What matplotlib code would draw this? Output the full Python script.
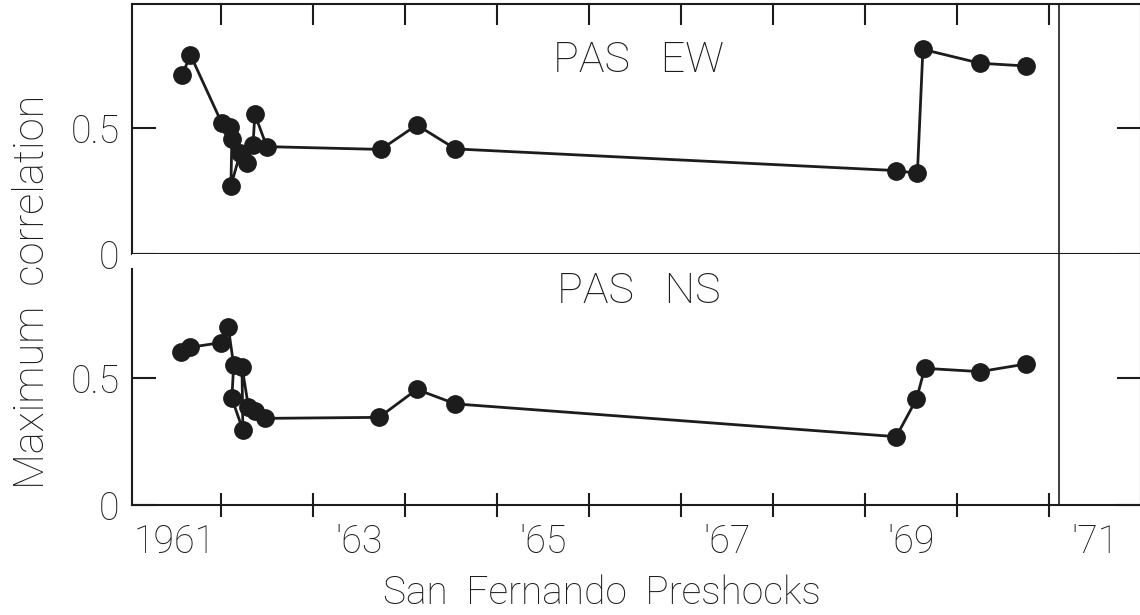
import matplotlib
matplotlib.use("Agg")
import matplotlib.pyplot as plt

# Preshock correlation values, PAS EW and PAS NS components
ew_year = [1961.58, 1961.67, 1962.01, 1962.10, 1962.12, 1962.11, 1962.21, 1962.28,
           1962.35, 1962.37, 1962.50, 1963.74, 1964.13, 1964.55, 1969.34, 1969.57,
           1969.63, 1970.25, 1970.75]
ew_corr = [0.71, 0.79, 0.52, 0.505, 0.455, 0.27, 0.40, 0.36,
           0.433, 0.554, 0.426, 0.415, 0.512, 0.417, 0.331, 0.32,
           0.812, 0.757, 0.746]

ns_year = [1961.57, 1961.67, 1962.00, 1962.08, 1962.14, 1962.12, 1962.24, 1962.23,
           1962.30, 1962.37, 1962.48, 1963.72, 1964.13, 1964.55, 1969.34, 1969.56,
           1969.65, 1970.25, 1970.75]
ns_corr = [0.604, 0.621, 0.639, 0.702, 0.551, 0.42, 0.295, 0.545,
           0.387, 0.37, 0.341, 0.345, 0.455, 0.398, 0.269, 0.417,
           0.538, 0.525, 0.555]

mainshock_year = 1971.11
year_ticks = list(range(1962, 1972))
label_pos = [1961.5, 1963.5, 1965.5, 1967.5, 1969.5, 1971.5]
label_text = ["1961", "'63", "'65", "'67", "'69", "'71"]
panel_titles = ["PAS   EW", "PAS   NS"]

ink = "#1c1c1c"
fam = ["Roboto", "DejaVu Sans"]
plt.rcParams["font.family"] = fam
plt.rcParams["font.weight"] = "light"
plt.rcParams["text.color"] = ink
plt.rcParams["axes.edgecolor"] = ink
plt.rcParams["xtick.color"] = ink
plt.rcParams["ytick.color"] = ink

W, H = 1140, 615
fig = plt.figure(figsize=(W / 100, H / 100), dpi=100)
left = 132 / W
width = 1141 / W - left
ax1 = fig.add_axes([left, (H - 254) / H, width, 250 / H])
ax2 = fig.add_axes([left, (H - 505) / H, width, 251 / H])

xlim = (1961.035, 1972.0)
for ax, yr, cc, title, ytop, ty in [
    (ax1, ew_year, ew_corr, panel_titles[0], 0.992, 0.776),
    (ax2, ns_year, ns_corr, panel_titles[1], 0.988, 0.849),
]:
    ax.plot(yr, cc, "-o", color=ink, lw=2.0, ms=12.5, mfc=ink, mec=ink, zorder=3)
    ax.axvline(mainshock_year, color=ink, lw=1.2, zorder=2)
    ax.set_xlim(*xlim)
    ax.set_ylim(0, ytop)
    ax.set_yticks([0, 0.5])
    ax.set_yticklabels(["0", "0.5"], fontsize=27)
    ax.tick_params(axis="y", which="major", direction="in", length=17, width=1.5,
                   pad=9, left=True, right=True, labelleft=True)
    for s in ax.spines.values():
        s.set_linewidth(1.5)
    ax.text(0.5025, ty, title, transform=ax.transAxes, ha="center", va="center",
            fontsize=31)

# top panel: year ticks along its top edge
ax1.set_xticks(year_ticks)
ax1.tick_params(axis="x", which="major", direction="in", length=15, width=1.5,
                top=True, bottom=False, labelbottom=False, labeltop=False)

# bottom panel: year ticks crossing the time axis, labels centred in each year
ax2.set_xticks(year_ticks)
ax2.set_xticklabels([])
ax2.tick_params(axis="x", which="major", direction="inout", length=17, width=1.5,
                top=False, bottom=True)
ax2.set_xticks(label_pos, minor=True)
ax2.set_xticklabels(label_text, minor=True, fontsize=27)
ax2.tick_params(axis="x", which="minor", length=0, pad=13)
ax2.spines["top"].set_visible(False)
ax2.spines["left"].set_bounds(0, 0.93)

fig.text(33 / W, 1 - 292 / H, "Maximum  correlation", rotation=90,
         ha="center", va="center", fontsize=30)
fig.text(602 / W, 1 - 593 / H, "San  Fernando  Preshocks", ha="center",
         va="center", fontsize=28)

fig.savefig("out.png", dpi=100, facecolor="white")
